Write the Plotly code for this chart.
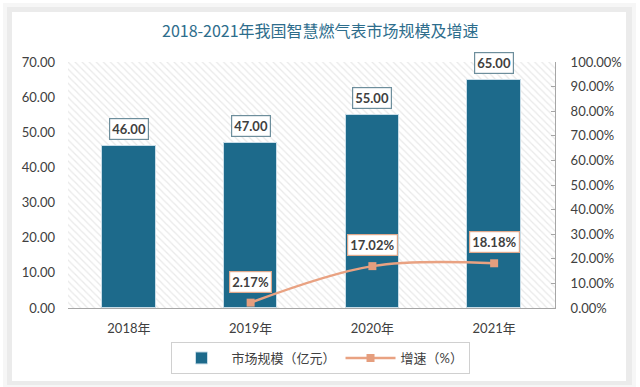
import plotly.graph_objects as go

years = ["2018年", "2019年", "2020年", "2021年"]
market_size = [46.00, 47.00, 55.00, 65.00]          # 亿元
growth_years = ["2019年", "2020年", "2021年"]
growth_rate = [2.17, 17.02, 18.18]                    # %
left_ticks = [0, 10, 20, 30, 40, 50, 60, 70]
right_ticks = [0, 10, 20, 30, 40, 50, 60, 70, 80, 90, 100]

title = "2018-2021年我国智慧燃气表市场规模及增速"
bar_name = "市场规模（亿元）"
line_name = "增速（%）"

W, H = 640, 387
L, R, T, B = 68, 555, 62, 308
PW, PH = R - L, B - T

def px(x):
    return (x - L) / PW

def py(y):
    return (B - y) / PH

FONT = "Lato, 'Noto Sans CJK SC', sans-serif"
BAR_C = "#1d6a8b"
LINE_C = "#e9a282"
TXT = "#404040"

xi = list(range(len(years)))
gx = [years.index(g) for g in growth_years]

fig = go.Figure()

# hatched plot-area background
fig.add_trace(go.Bar(
    x=[(len(years) - 1) / 2], y=[left_ticks[-1]], width=[len(years)],
    marker=dict(color="white", line=dict(width=0),
                pattern=dict(shape="\\", fgcolor="#d4d4d4", bgcolor="white",
                             size=5, solidity=0.25)),
    showlegend=False, hoverinfo="skip", xaxis="x", yaxis="y",
))

fig.add_trace(go.Bar(
    x=xi, y=market_size, width=0.44, name=bar_name,
    marker=dict(color=BAR_C, line=dict(color="#c9dde8", width=1)),
    xaxis="x", yaxis="y",
))

fig.add_trace(go.Scatter(
    x=gx, y=growth_rate, name=line_name, mode="lines+markers",
    line=dict(color=LINE_C, width=2.5, shape="spline", smoothing=1.0),
    marker=dict(symbol="square", size=8, color="#e59e7e"),
    xaxis="x", yaxis="y2",
))

ann = []
for i, v in zip(xi, market_size):
    ann.append(dict(x=i, y=v, xref="x", yref="y", text=f"<b>{v:.2f}</b>",
                    showarrow=False, yshift=17, bgcolor="white",
                    bordercolor="#6d8e9c", borderwidth=1.2, borderpad=2,
                    font=dict(family=FONT, size=13, color=TXT)))
for i, v in zip(gx, growth_rate):
    ann.append(dict(x=i, y=v, xref="x", yref="y2", text=f"<b>{v:.2f}%</b>",
                    showarrow=False, yshift=21, bgcolor="white",
                    bordercolor="#dfa88c", borderwidth=1.2, borderpad=2,
                    font=dict(family=FONT, size=13, color=TXT)))
ann.append(dict(x=px(320), y=py(30), xref="paper", yref="paper", text=title,
                showarrow=False, xanchor="center", yanchor="middle",
                font=dict(family="'Noto Sans CJK SC', sans-serif", size=16,
                          color="#2d6d8c")))

shapes = [
    dict(type="rect", xref="paper", yref="paper", layer="below",
         x0=px(3), x1=px(636), y0=py(3), y1=py(387), fillcolor="#f6f6f6",
         line=dict(width=0)),
    dict(type="rect", xref="paper", yref="paper", layer="below",
         x0=px(7), x1=px(632), y0=py(7), y1=py(385), fillcolor="#ebebeb",
         line=dict(width=0)),
    dict(type="rect", xref="paper", yref="paper", layer="below",
         x0=px(12), x1=px(626), y0=py(12), y1=py(381), fillcolor="white",
         line=dict(width=0)),
]

fig.update_layout(
    width=W, height=H,
    margin=dict(l=L, r=W - R, t=T, b=H - B, autoexpand=False),
    paper_bgcolor="#ffffff", plot_bgcolor="rgba(0,0,0,0)",
    barmode="overlay", bargap=0,
    font=dict(family=FONT, size=13, color=TXT),
    xaxis=dict(range=[-0.5, len(years) - 0.5], tickvals=xi, ticktext=years,
               showgrid=False, zeroline=False, showline=True,
               linecolor="#a6a6a6", linewidth=1, ticks="",
               tickfont=dict(size=13, color=TXT), ticklabelstandoff=8),
    yaxis=dict(range=[0, left_ticks[-1]], tickvals=left_ticks,
               ticktext=[f"{t:.2f}" for t in left_ticks],
               showgrid=False, zeroline=False, showline=False,
               tickfont=dict(size=13, color=TXT), ticklabelstandoff=12),
    yaxis2=dict(range=[0, right_ticks[-1]], tickvals=right_ticks,
                ticktext=[f"{t:.2f}%" for t in right_ticks],
                overlaying="y", side="right", showgrid=False, zeroline=False,
                showline=True, linecolor="#a6a6a6", linewidth=1,
                ticks="inside", ticklen=4, tickcolor="#a6a6a6",
                tickfont=dict(size=13, color=TXT), ticklabelstandoff=12),
    legend=dict(orientation="h", x=px(320), y=py(358), xanchor="center",
                yanchor="middle", bordercolor="#d0d0d0", borderwidth=1,
                bgcolor="white", font=dict(size=13, color=TXT),
                itemwidth=50, traceorder="normal"),
    annotations=ann, shapes=shapes,
)

fig.write_html("out.html",
               config={"displayModeBar": False},
               post_script="document.body.style.margin='0';"
                           "document.body.style.overflow='hidden';")
